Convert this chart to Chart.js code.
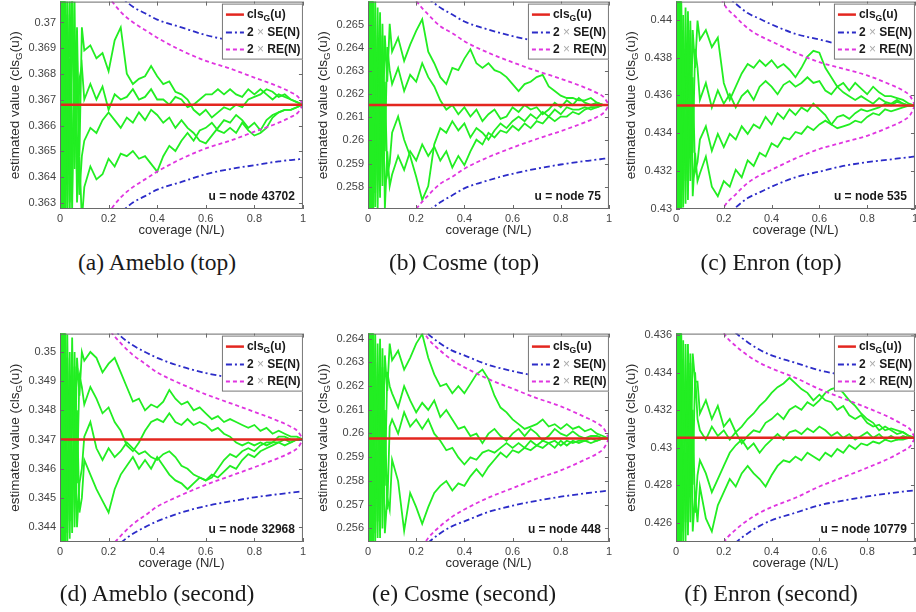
<!DOCTYPE html>
<html>
<head>
<meta charset="utf-8">
<script src="https://cdn.jsdelivr.net/npm/chart.js@4.4.0/dist/chart.umd.min.js"></script>
<style>
  body { margin: 0; width: 916px; height: 612px; background: #fff; overflow: hidden; position: relative; }
  canvas { position: absolute; }
  .cap { position: absolute; font-family: "Liberation Serif", "Times New Roman", serif; font-size: 23.5px; line-height: 26px; color: #1a1a1a; white-space: nowrap; transform: translateX(-50%); }
</style>
</head>
<body>
<script>
// shared x grid (coverage N/L) and tick labels
var coverageX = [0, 0.004, 0.008, 0.012, 0.016, 0.02, 0.03, 0.04, 0.05, 0.06, 0.07, 0.08, 0.09,
  0.1, 0.125, 0.15, 0.175, 0.2, 0.225, 0.25, 0.275, 0.3, 0.325, 0.35, 0.375, 0.4, 0.425, 0.45, 0.475,
  0.5, 0.525, 0.55, 0.575, 0.6, 0.625, 0.65, 0.675, 0.7, 0.725, 0.75, 0.775, 0.8, 0.825, 0.85, 0.875,
  0.9, 0.925, 0.95, 0.975, 1];
var envX = [0.12, 0.15, 0.2, 0.25, 0.3, 0.35, 0.4, 0.5, 0.6, 0.7, 0.8, 0.9, 0.95, 0.98, 1];
var xTicks = [0, 0.2, 0.4, 0.6, 0.8, 1];

var captions = ['(a) Ameblo (top)', '(b) Cosme (top)', '(c) Enron (top)',
  '(d) Ameblo (second)', '(e) Cosme (second)', '(f) Enron (second)'];
var nodeLabels = ['u = node 43702', 'u = node 75', 'u = node 535',
  'u = node 32968', 'u = node 448', 'u = node 10779'];

// true values cls_G(u) and axis ranges
var clsValues = [0.36681, 0.26153, 0.43546, 0.347, 0.25979, 0.43053];
var yMins = [0.36276, 0.25704, 0.42998, 0.34349, 0.25542, 0.42497];
var yMaxs = [0.37081, 0.26599, 0.44097, 0.35063, 0.26421, 0.43609];
var yTicksA = [0.363, 0.364, 0.365, 0.366, 0.367, 0.368, 0.369, 0.37];
var yTicksB = [0.258, 0.259, 0.26, 0.261, 0.262, 0.263, 0.264, 0.265];
var yTicksC = [0.43, 0.432, 0.434, 0.436, 0.438, 0.44];
var yTicksD = [0.344, 0.345, 0.346, 0.347, 0.348, 0.349, 0.35];
var yTicksE = [0.256, 0.257, 0.258, 0.259, 0.26, 0.261, 0.262, 0.263, 0.264];
var yTicksF = [0.426, 0.428, 0.43, 0.432, 0.434, 0.436];

// half-widths of the 2xRE(N) and 2xSE(N) bands at envX, units of 1e-4
var reA = [57, 50, 42, 36, 32, 29, 26, 21, 17, 14, 10.5, 7, 4.8, 3, 0];
var seA = [61, 54, 47, 42, 38, 35.5, 33, 30, 27, 25, 23.5, 22, 21.5, 21.2, 21];
var reB = [61, 54, 45, 39, 34, 31, 27.5, 22.5, 18.4, 14.7, 11.3, 7.5, 5.2, 3.2, 0];
var seB = [66, 59, 51, 46, 42, 39, 36, 32.5, 29.7, 27.5, 25.7, 24.2, 23.6, 23.2, 23];
var reC = [85, 70, 54, 47, 41, 37, 34, 28, 23, 19.5, 16, 11, 8, 5, 0];
var seC = [78, 70, 60, 54, 49, 46, 43, 38, 35, 32, 30, 28.5, 27.7, 27.3, 27];
var reD = [52, 45, 38, 33, 29, 26, 23, 19, 15.5, 12.5, 9.5, 6.3, 4.4, 2.7, 0];
var seD = [51, 46, 40, 35.4, 32.3, 30, 28, 25, 22.8, 21.2, 19.8, 18.7, 18.2, 17.9, 17.7];
var reE = [70, 60, 50, 42, 37, 33, 30, 25, 21, 17, 13.5, 9, 6.5, 4, 0];
var seE = [63.5, 57, 49, 44, 40, 37, 35, 31, 28.4, 26.3, 24.6, 23.2, 22.6, 22.2, 22];
var reF = [88, 72, 56, 49, 44, 40, 37, 32, 26, 21, 16, 10.5, 7, 4.5, 0];
var seF = [81, 72, 63, 56, 51, 47, 44, 40, 36, 33.5, 31.3, 29.5, 28.7, 28.3, 28];

// estimator runs: offset from cls_G(u) at coverageX, units of 1e-4
var walksA = [
  [60,-60,60,-60,60,-60, 42,-38,45,-15,30,-20,30, 21,23,18,20,13,25,30,12,8,10,11,15,11,8,9,5,4,2,-2,-4,-2,-5,-3,-1,-2,0,-1,2,3,4,6,5,3,4,2,1,0],
  [-60,60,-60,60,-60,60, -20,46,-35,25,-30,10,15, 2,8,2,7,-2,4,2,3,6,2,3,6,2,2,0,3,2,-1,0,2,4,4,6,4,6,4,3,6,4,6,4,2,4,3,2,1,0],
  [55,-55,60,-60,55,-55, 35,-45,48,-25,20,-35,-20, -14,-9,-11,-6,-3,-6,-9,-5,-7,-3,-6,-2,-4,-7,-5,-9,-6,-9,-11,-14,-15,-12,-9,-6,-7,-4,-6,-9,-7,-10,-6,-4,-3,-2,-2,-1,0],
  [-55,55,-60,60,-55,55, -45,18,-42,40,-38,-20,-45, -32,-24,-29,-27,-21,-24,-19,-20,-18,-21,-20,-23,-26,-20,-16,-18,-14,-11,-14,-10,-9,-7,-10,-11,-9,-11,-7,-10,-12,-11,-9,-5,-3,-2,-2,-1,0]
];
var walksB = [
  [65,-65,65,-65,65,-65, 45,-30,40,-20,30,10,35, 23,29,19,26,32,37,23,18,12,9,16,15,20,24,18,16,18,15,14,12,9,6,9,10,12,13,8,6,4,3,3,2,2,3,1,0,0],
  [-65,65,-65,65,-65,65, -38,42,-30,35,-20,25,15, 9,16,6,13,10,18,12,8,2,-2,0,-4,-1,-5,-2,-7,-4,-2,-6,-5,-1,-3,0,-2,-1,-4,-2,1,-1,2,0,3,1,0,1,0,0],
  [60,-60,65,-65,60,-60, 30,-45,25,-35,10,-30,-25, -12,-5,-15,-22,-31,-41,-35,-17,-10,-12,-7,-11,-8,-14,-10,-12,-15,-11,-8,-10,-7,-5,-7,-4,-6,-3,-5,-2,-4,-1,-2,-2,-1,-2,-1,0,0],
  [-60,60,-65,65,-60,60, -44,25,-40,30,-45,-20,-35, -30,-22,-28,-20,-24,-17,-22,-18,-24,-20,-27,-22,-26,-20,-15,-17,-12,-14,-11,-12,-9,-11,-8,-10,-7,-8,-5,-7,-5,-5,-3,-4,-2,-1,-1,0,0]
];
var walksC = [
  [80,-80,80,-80,80,-80, 48,-40,50,-25,40,20,45, 35,40,31,36,12,3,10,17,22,20,24,21,24,20,22,19,15,20,26,29,28,20,15,10,12,8,12,9,6,10,7,5,5,4,3,1,0],
  [-80,80,-80,80,-80,80, -45,52,-35,45,-25,30,20, 3,12,-1,8,1,6,-1,5,8,3,10,13,10,6,11,13,10,12,15,12,13,8,6,10,7,5,3,5,3,1,4,2,1,3,1,0,0],
  [75,-75,80,-80,75,-75, 40,-52,35,-40,15,-35,-30, -18,-11,-24,-15,-22,-15,-18,-11,-15,-10,-12,-6,-10,-4,-7,-2,-5,-1,-3,1,-2,-5,-10,-12,-11,-10,-8,-9,-6,-4,-5,-2,-3,-2,-1,0,0],
  [-75,75,-80,80,-75,75, -54,30,-50,40,-48,-25,-40, -36,-27,-43,-48,-40,-43,-34,-38,-29,-32,-25,-27,-20,-22,-17,-18,-14,-15,-11,-13,-10,-8,-10,-6,-5,-7,-4,-2,-3,-2,-1,1,0,2,1,0,0]
];
var walksD = [
  [55,-55,55,-55,55,-55, 36,-28,35,-15,28,15,30, 27,30,28,23,26,28,23,18,13,14,10,12,11,13,17,14,12,13,10,11,9,7,8,6,7,6,5,4,5,3,4,2,3,2,1,1,0],
  [-55,55,-55,55,-55,55, -32,30,-25,30,-15,22,18, 12,18,14,9,11,6,3,-2,-4,-1,3,6,7,6,9,6,5,7,5,6,5,3,4,2,1,-1,-2,-1,-2,-1,-2,-1,-1,0,-1,0,0],
  [50,-50,55,-55,50,-50, 28,-34,25,-30,10,-25,-20, -7,-12,-17,-21,-25,-17,-12,-9,-6,-10,-7,-10,-6,-9,-12,-14,-15,-17,-15,-13,-14,-12,-13,-11,-9,-10,-7,-5,-6,-4,-3,-2,-1,-2,-1,0,0],
  [-50,50,-55,55,-50,50, -36,20,-32,25,-30,-15,-10, 1,6,-3,-7,-3,-6,-4,-1,-3,-5,-4,-6,-7,-5,-4,-6,-9,-10,-12,-13,-14,-13,-10,-7,-5,-6,-4,-3,-4,-2,-1,-1,1,1,0,0,0]
];
var walksE = [
  [65,-65,65,-65,65,-65, 44,-35,42,-20,35,20,40, 33,37,29,34,40,44,34,27,22,23,19,22,19,23,27,29,25,18,13,11,8,6,4,5,6,8,5,6,4,6,4,5,3,4,2,1,0],
  [-65,65,-65,65,-65,65, -40,40,-30,38,-20,28,22, 19,13,22,16,11,15,12,16,9,12,8,4,5,1,2,-2,2,4,1,-1,2,4,1,4,2,-1,1,4,2,1,3,1,0,1,1,0,0],
  [60,-60,65,-65,60,-60, 32,-42,30,-38,12,-30,5, 8,2,11,5,8,4,8,2,-1,-5,-4,-8,-11,-8,-9,-6,-5,-6,-4,-2,-4,-2,-4,-1,-3,-1,-2,-4,-1,-3,-1,-2,-1,-2,-1,0,0],
  [-60,60,-65,65,-60,60, -44,26,-42,30,-40,-25,-30, -9,-18,-39,-23,-29,-36,-29,-23,-20,-18,-22,-19,-20,-16,-13,-16,-12,-9,-6,-8,-5,-6,-4,-5,-3,-4,-2,-1,-3,-1,-2,-1,-1,0,-1,0,0]
];
var walksF = [
  [80,-80,80,-80,80,-80, 52,-45,50,-25,45,30,30, 13,20,10,17,6,10,3,6,10,13,17,20,24,27,29,32,29,26,24,20,23,20,19,15,17,12,10,12,8,6,7,4,5,4,3,1,0],
  [-80,80,-80,80,-80,80, -50,50,-40,45,-25,35,10, 4,-1,6,1,4,-1,3,-3,1,4,3,8,10,13,10,15,17,15,19,17,20,24,26,27,24,20,17,13,10,8,4,6,4,2,3,1,0],
  [75,-75,80,-80,75,-75, 42,-55,38,-45,15,-40,-20, -12,-19,-29,-22,-15,-8,-4,-1,-6,-3,-8,-4,-1,2,-1,3,4,2,5,3,6,4,1,3,0,2,-1,1,3,0,2,-1,1,-1,1,0,0],
  [-75,75,-80,80,-75,75, -56,30,-52,40,-50,-30,-45, -26,-43,-50,-36,-29,-22,-26,-19,-15,-19,-22,-26,-20,-15,-12,-13,-10,-12,-8,-10,-12,-8,-10,-6,-8,-4,-6,-3,-4,-2,-3,-1,-2,-1,-1,0,0]
];

var legendCls = ['(u)', '(u)', '(u)', '(u)', '(u)', '(u))'];

var RED = '#e3261f', BLUE = '#2c2cc8', MAGENTA = '#e035e0', GREEN = '#22ee22';
var SANS = '"Liberation Sans", Arial, Helvetica, sans-serif';

// plot-area boxes in page pixels
var boxes = [
  { l: 60, t: 1, w: 243, h: 208 }, { l: 368, t: 1, w: 241, h: 208 }, { l: 676, t: 1, w: 239, h: 208 },
  { l: 60, t: 333, w: 243, h: 209 }, { l: 368, t: 333, w: 241, h: 209 }, { l: 676, t: 333, w: 239, h: 209 }
];
var capPos = [[157, 249], [464, 249], [771, 249], [157, 580], [464, 580], [771, 580]];

var panels = [
  { yTicks: yTicksA, re: reA, se: seA, walks: walksA },
  { yTicks: yTicksB, re: reB, se: seB, walks: walksB },
  { yTicks: yTicksC, re: reC, se: seC, walks: walksC },
  { yTicks: yTicksD, re: reD, se: seD, walks: walksD },
  { yTicks: yTicksE, re: reE, se: seE, walks: walksE },
  { yTicks: yTicksF, re: reF, se: seF, walks: walksF }
];

function drawParts(ctx, parts, x, y, size) {
  parts.forEach(function (p) {
    var fs = p.sub ? size * 0.72 : size;
    ctx.font = (p.bold ? 'bold ' : '') + fs + 'px ' + SANS;
    ctx.fillStyle = p.color || '#1a1a1a';
    ctx.fillText(p.t, x, y + (p.sub ? size * 0.3 : 0));
    x += ctx.measureText(p.t).width;
  });
  return x;
}
function partsWidth(ctx, parts, size) {
  var w = 0;
  parts.forEach(function (p) {
    var fs = p.sub ? size * 0.72 : size;
    ctx.font = (p.bold ? 'bold ' : '') + fs + 'px ' + SANS;
    w += ctx.measureText(p.t).width;
  });
  return w;
}

function decor(i) {
  var p = panels[i];
  return {
    id: 'decor' + i,
    afterDraw: function (chart) {
      var ctx = chart.ctx, a = chart.chartArea, xs = chart.scales.x, ys = chart.scales.y;
      ctx.save();
      ctx.setLineDash([]);
      ctx.strokeStyle = '#6a6a6a';
      ctx.lineWidth = 1;
      ctx.strokeRect(a.left + 0.5, a.top + 0.5, a.right - a.left - 1, a.bottom - a.top - 1);
      ctx.beginPath();
      p.yTicks.forEach(function (v) {
        var y = Math.round(ys.getPixelForValue(v)) + 0.5;
        ctx.moveTo(a.left, y); ctx.lineTo(a.left + 4, y);
        ctx.moveTo(a.right, y); ctx.lineTo(a.right - 4, y);
      });
      xTicks.forEach(function (v) {
        var x = Math.round(xs.getPixelForValue(v)) + 0.5;
        ctx.moveTo(x, a.bottom); ctx.lineTo(x, a.bottom - 4);
        ctx.moveTo(x, a.top); ctx.lineTo(x, a.top + 4);
      });
      ctx.stroke();

      // legend box
      var lw = 81, lh = 56, lx = a.right - lw, ly = a.top + 2;
      ctx.fillStyle = '#fff';
      ctx.fillRect(lx, ly, lw, lh);
      ctx.strokeStyle = '#777';
      ctx.strokeRect(lx + 0.5, ly + 0.5, lw - 1, lh - 1);
      var rows = [
        { c: RED, d: [], w: 2.5, y: ly + 11, parts: [{ t: 'cls', bold: 1 }, { t: 'G', bold: 1, sub: 1 }, { t: legendCls[i], bold: 1 }] },
        { c: BLUE, d: [6, 3, 2, 3], w: 2, y: ly + 29, parts: [{ t: '2 ', bold: 1 }, { t: '\u00d7', color: '#aaa' }, { t: ' SE(N)', bold: 1 }] },
        { c: MAGENTA, d: [4, 3], w: 2, y: ly + 46, parts: [{ t: '2 ', bold: 1 }, { t: '\u00d7', color: '#aaa' }, { t: ' RE(N)', bold: 1 }] }
      ];
      ctx.textBaseline = 'middle';
      ctx.textAlign = 'left';
      rows.forEach(function (r) {
        ctx.beginPath();
        ctx.setLineDash(r.d);
        ctx.strokeStyle = r.c;
        ctx.lineWidth = r.w;
        ctx.moveTo(lx + 4, r.y); ctx.lineTo(lx + 22, r.y);
        ctx.stroke();
        ctx.setLineDash([]);
        drawParts(ctx, r.parts, lx + 25, r.y, 12);
      });

      // node annotation
      ctx.font = 'bold 12px ' + SANS;
      ctx.fillStyle = '#1a1a1a';
      ctx.textAlign = 'right';
      ctx.fillText(nodeLabels[i], a.right - 8, a.bottom - 12);

      // axis titles
      ctx.textAlign = 'center';
      ctx.font = '13px ' + SANS;
      ctx.fillStyle = '#2a2a2a';
      ctx.fillText('coverage (N/L)', (a.left + a.right) / 2, a.bottom + 21);

      var yparts = [{ t: 'estimated value (cls', color: '#2a2a2a' }, { t: 'G', sub: 1, color: '#2a2a2a' }, { t: '(u))', color: '#2a2a2a' }];
      ctx.textAlign = 'left';
      var tw = partsWidth(ctx, yparts, 13.5);
      ctx.translate(a.left - 45, (a.top + a.bottom) / 2);
      ctx.rotate(-Math.PI / 2);
      drawParts(ctx, yparts, -tw / 2, 0, 13.5);
      ctx.restore();
    }
  };
}

function pts(xArr, vals, c, sign) {
  return xArr.map(function (x, k) { return { x: x, y: c + sign * vals[k] * 1e-4 }; });
}

panels.forEach(function (p, i) {
  var b = boxes[i];
  var cv = document.createElement('canvas');
  cv.width = b.w + 66;
  cv.height = b.h + 49;
  cv.style.left = (b.l - 60) + 'px';
  cv.style.top = (b.t - 10) + 'px';
  document.body.appendChild(cv);

  var cap = document.createElement('div');
  cap.className = 'cap';
  cap.textContent = captions[i];
  cap.style.left = capPos[i][0] + 'px';
  cap.style.top = capPos[i][1] + 'px';
  document.body.appendChild(cap);

  var c = clsValues[i];
  var ds = [
    { data: [{ x: 0, y: c }, { x: 1, y: c }], borderColor: RED, borderWidth: 2.5 },
    { data: pts(envX, p.re, c, 1), borderColor: MAGENTA, borderWidth: 1.8, borderDash: [4, 3], cubicInterpolationMode: 'monotone' },
    { data: pts(envX, p.re, c, -1), borderColor: MAGENTA, borderWidth: 1.8, borderDash: [4, 3], cubicInterpolationMode: 'monotone' },
    { data: pts(envX, p.se, c, 1), borderColor: BLUE, borderWidth: 1.8, borderDash: [6, 3, 2, 3], cubicInterpolationMode: 'monotone' },
    { data: pts(envX, p.se, c, -1), borderColor: BLUE, borderWidth: 1.8, borderDash: [6, 3, 2, 3], cubicInterpolationMode: 'monotone' }
  ];
  p.walks.forEach(function (w) {
    ds.push({ data: pts(coverageX, w, c, 1), borderColor: GREEN, borderWidth: 1.8 });
  });

  new Chart(cv, {
    type: 'line',
    data: { datasets: ds },
    options: {
      responsive: false,
      animation: false,
      devicePixelRatio: 1,
      layout: { padding: { top: 10, right: 6, left: 0, bottom: 0 } },
      elements: { point: { radius: 0 }, line: { tension: 0 } },
      plugins: { legend: { display: false }, tooltip: { enabled: false } },
      scales: {
        x: {
          type: 'linear', min: 0, max: 1,
          grid: { display: false, drawTicks: false },
          border: { display: false },
          afterBuildTicks: function (s) { s.ticks = xTicks.map(function (v) { return { value: v }; }); },
          afterFit: function (s) { s.height = 39; },
          ticks: { autoSkip: false, maxRotation: 0, padding: 3, color: '#444', font: { family: SANS, size: 11 },
            callback: function (v) { return String(+Number(v).toFixed(4)); } }
        },
        y: {
          type: 'linear', min: yMins[i], max: yMaxs[i],
          grid: { display: false, drawTicks: false },
          border: { display: false },
          afterBuildTicks: function (s) { s.ticks = p.yTicks.map(function (v) { return { value: v }; }); },
          afterFit: function (s) { s.width = 60; },
          ticks: { autoSkip: false, padding: 4, color: '#444', font: { family: SANS, size: 11 },
            callback: function (v) { return String(+Number(v).toFixed(4)); } }
        }
      }
    },
    plugins: [decor(i)]
  });
});
</script>
</body>
</html>
